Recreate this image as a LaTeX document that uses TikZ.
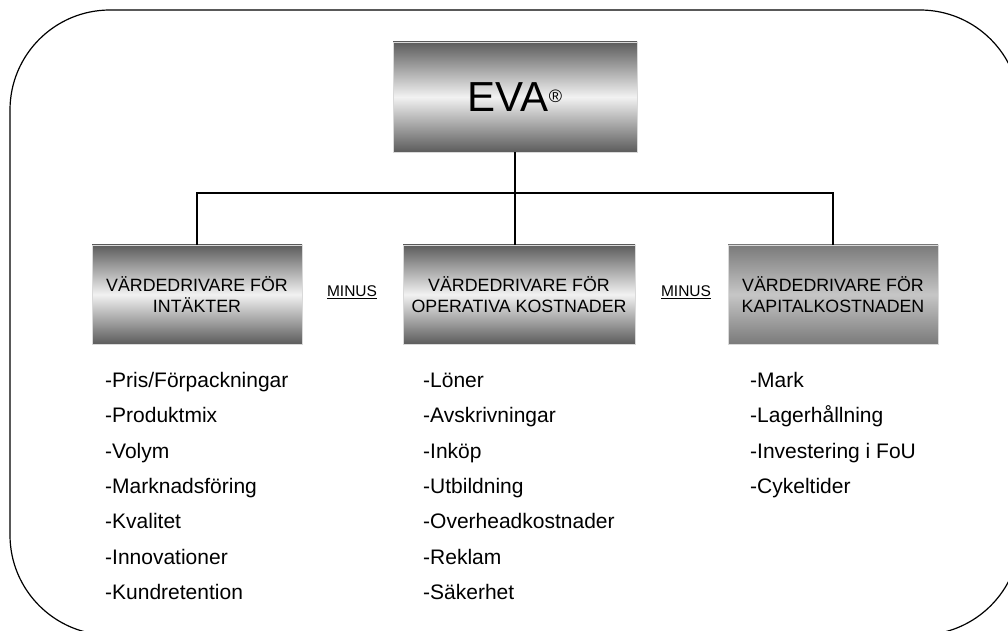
\documentclass[tikz,border=0pt]{standalone}
\usepackage{fontspec}
\setmainfont{Liberation Sans}
\usepackage{tikz}
\usetikzlibrary{positioning}

\definecolor{boxdark}{HTML}{5C5C5C}
\definecolor{boxlight}{HTML}{F2F2F2}
\definecolor{capdark}{HTML}{7A7A7A}
\definecolor{caplight}{HTML}{C6C6C6}

\begin{document}
\begin{tikzpicture}[
    x=1pt, y=1pt,
    box/.style={draw=black!15, line width=0.6pt, align=center, inner sep=0pt,
        minimum width=210pt, minimum height=99pt,
        top color=boxdark, bottom color=boxdark, middle color=boxlight,
        font=\fontsize{17.8}{20.5}\selectfont},
    capbox/.style={box, top color=capdark, bottom color=capdark, middle color=caplight},
    minus/.style={inner sep=0pt, font=\fontsize{15.5}{18}\selectfont},
    item/.style={anchor=west, inner sep=0pt, text height=15pt, text depth=5pt,
        font=\fontsize{21}{24}\selectfont},
    line/.style={line width=1.1pt}
]
\clip (0,0) rectangle (1008,630);
\draw[line width=1.2pt, rounded corners=100pt] (10,620) rectangle (1020,-5);

% top
\node[box, minimum width=244pt, minimum height=110pt, font=\fontsize{42}{48}\selectfont]
    (eva) at (515,533) {EVA\raisebox{9pt}{\fontsize{18}{18}\selectfont ®}};

% value drivers
\node[box] (intakt) at (197,335.5) {VÄRDEDRIVARE FÖR\\INTÄKTER};
\node[box, minimum width=232pt] (operativ) at (519,335.5) {VÄRDEDRIVARE FÖR\\OPERATIVA KOSTNADER};
\node[capbox] (kapital) at (833,335.5) {VÄRDEDRIVARE FÖR\\KAPITALKOSTNADEN};
\node[minus] (minus1) at (352,338) {\underline{MINUS}};
\node[minus] (minus2) at (686,338) {\underline{MINUS}};

\coordinate (bar) at (515,437);
\draw[line] (eva) -- (bar);
\draw[line] (intakt) |- (bar) -| (kapital);
\draw[line] (bar) -- (bar |- operativ.north);

% revenue drivers
\node[item] (p1) at (105,247.5) {-Pris/Förpackningar};
\node[below=35.33pt of p1.west, item] (p2) {-Produktmix};
\node[below=35.33pt of p2.west, item] (p3) {-Volym};
\node[below=35.33pt of p3.west, item] (p4) {-Marknadsföring};
\node[below=35.33pt of p4.west, item] (p5) {-Kvalitet};
\node[below=35.33pt of p5.west, item] (p6) {-Innovationer};
\node[below=35.33pt of p6.west, item] (p7) {-Kundretention};

% operating cost drivers
\node[item] (q1) at (423,247.5) {-Löner};
\node[below=35.33pt of q1.west, item] (q2) {-Avskrivningar};
\node[below=35.33pt of q2.west, item] (q3) {-Inköp};
\node[below=35.33pt of q3.west, item] (q4) {-Utbildning};
\node[below=35.33pt of q4.west, item] (q5) {-Overheadkostnader};
\node[below=35.33pt of q5.west, item] (q6) {-Reklam};
\node[below=35.33pt of q6.west, item] (q7) {-Säkerhet};

% capital cost drivers
\node[item] (r1) at (750,247.5) {-Mark};
\node[below=35.33pt of r1.west, item] (r2) {-Lagerhållning};
\node[below=35.33pt of r2.west, item] (r3) {-Investering i FoU};
\node[below=35.33pt of r3.west, item] (r4) {-Cykeltider};
\end{tikzpicture}
\end{document}
